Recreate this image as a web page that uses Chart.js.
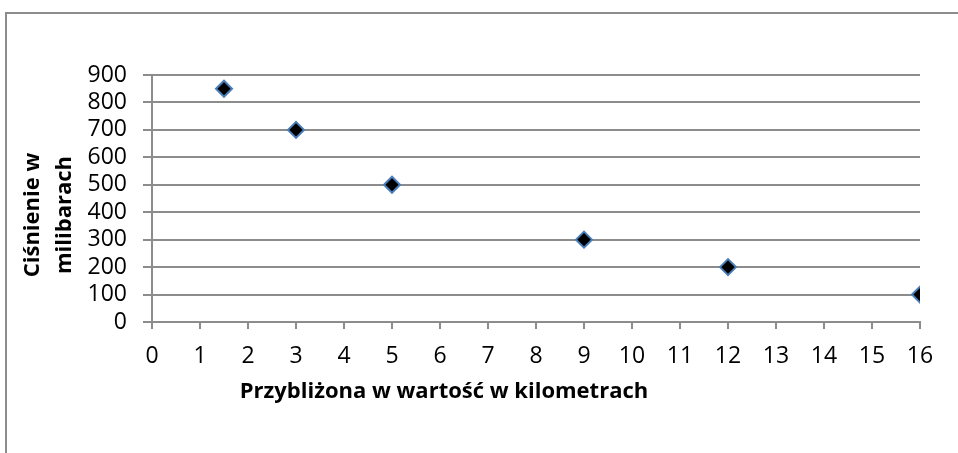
<!DOCTYPE html>
<html>
<head>
<meta charset="utf-8">
<script src="https://cdn.jsdelivr.net/npm/chart.js@4"></script>
<style>
  html, body { margin: 0; padding: 0; background: #fff; }
  #wrap { position: relative; width: 958px; height: 453px; }
</style>
</head>
<body>
<div id="wrap"><canvas id="pressureCanvas" width="958" height="453"></canvas></div>
<script>
// wysokość (km) i ciśnienie (mbar)
var heightKm = [1.5, 3, 5, 9, 12, 16];
var pressureMbar = [850, 700, 500, 300, 200, 100];
var xTitle = "Przybliżona w wartość w kilometrach";
var yTitle = ["Ciśnienie w", "milibarach"];

var points = [];
for (var i = 0; i < heightKm.length; i++) {
  points.push({ x: heightKm[i], y: pressureMbar[i] });
}

// ramka wykresu + tytuły osi rysowane ręcznie
var frameAndTitles = {
  id: "frameAndTitles",
  beforeDraw: function(chart) {
    var ctx = chart.ctx;
    ctx.save();
    ctx.strokeStyle = "#8c8c8c";
    ctx.lineWidth = 2;
    ctx.beginPath();
    ctx.moveTo(6, 453);
    ctx.lineTo(6, 13);
    ctx.lineTo(958, 13);
    ctx.stroke();
    ctx.restore();
  },
  afterDraw: function(chart) {
    var ctx = chart.ctx;
    ctx.save();
    ctx.fillStyle = "#000";
    ctx.font = "bold 22px 'Open Sans'";
    ctx.textAlign = "center";
    ctx.textBaseline = "middle";
    ctx.fillText(xTitle, 444, 392);
    ctx.translate(0, 215);
    ctx.rotate(-Math.PI / 2);
    ctx.fillText(yTitle[0], 0, 33);
    ctx.fillText(yTitle[1], 0, 65);
    ctx.restore();
  }
};

var tickFont = { family: "'Open Sans'", size: 23 };

var dataGraph = {
  type: "scatter",
  data: {
    datasets: [
      {
        data: points,
        pointStyle: "rectRot",
        pointRadius: 8,
        pointHoverRadius: 8,
        backgroundColor: "#000000",
        borderColor: "#4a7ebb",
        borderWidth: 2,
      }
    ]
  },
  options: {
    responsive: false,
    animation: false,
    layout: {
      padding: { left: 0, right: 38, top: 75, bottom: 0 }
    },
    scales: {
      x: {
        type: "linear",
        min: 0,
        max: 16,
        afterFit: function(scale) { scale.height = 131; },
        ticks: { stepSize: 1, autoSkip: false, color: "#000", font: tickFont, padding: 14, maxRotation: 0 },
        grid: { drawOnChartArea: false, drawTicks: true, tickLength: 7, color: "#8c8c8c", lineWidth: 2 },
        border: { color: "#8c8c8c", width: 2 }
      },
      y: {
        min: 0,
        max: 900,
        afterFit: function(scale) { scale.width = 152; },
        ticks: { stepSize: 100, autoSkip: false, color: "#000", font: tickFont, padding: 16 },
        grid: { color: "#8c8c8c", lineWidth: 2, tickLength: 9 },
        border: { color: "#8c8c8c", width: 2 }
      }
    },
    plugins: {
      legend: { display: false },
      tooltip: { enabled: false }
    }
  },
  plugins: [frameAndTitles]
};

var myChart = new Chart(document.getElementById("pressureCanvas"), dataGraph);
</script>
</body>
</html>
